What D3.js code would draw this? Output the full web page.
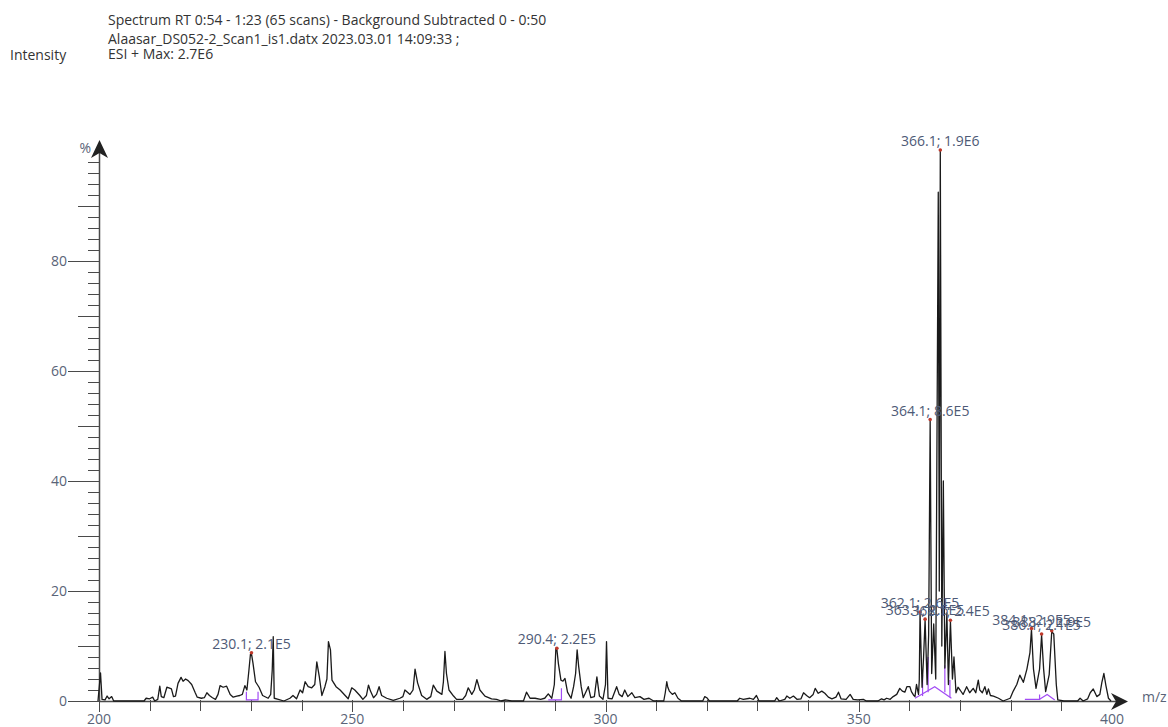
<!DOCTYPE html>
<html>
<head>
<meta charset="utf-8">
<script src="https://cdn.jsdelivr.net/npm/d3@7"></script>
<style>
  body { margin: 0; background: #fff; }
  svg { display: block; }
  text { font-family: "Open Sans", "Noto Sans", sans-serif; }
</style>
</head>
<body>
<svg id="chart" width="1168" height="727"></svg>
<script>
// ---- header text ----
const headerLines = [
  "Spectrum RT 0:54 - 1:23 (65 scans) - Background Subtracted 0 - 0:50",
  "Alaasar_DS052-2_Scan1_is1.datx 2023.03.01 14:09:33 ;",
  "ESI + Max: 2.7E6"
];
const headerBaselines = [25, 44, 59];
const yAxisTitle = "Intensity";

// ---- axes ----
const xDomain = [200, 400];
const yDomain = [0, 100];
const xTickLabels = [200, 250, 300, 350, 400];
const yTickLabels = [0, 20, 40, 60, 80];

// ---- profile spectrum: [m/z, relative intensity %] ----
const profile = [
  [199.8,0],[200.3,5.1],[200.6,0.3],[201.2,0.2],[201.6,0.9],[202.0,0.4],[202.5,0.8],[202.9,0],
  [208.9,0],[209.3,0.5],[210.0,0.4],[210.6,0.7],[211.0,0],[211.6,0.3],
  [212.0,2.7],[212.3,0.8],[212.8,0.6],[213.4,2.5],[213.8,2.4],[214.3,2.2],[214.7,0.8],[215.1,0.9],
  [215.6,3.2],[216.2,4.3],[216.6,3.6],[217.1,4.0],[217.6,3.7],[218.3,3.0],[219.0,1.5],[219.4,0.7],
  [220.2,0.5],[220.8,0.6],[221.3,1.5],[221.8,1.0],[222.4,0.6],[223.0,0.3],[223.5,1.2],
  [223.9,2.8],[224.5,2.5],[225.2,2.7],[225.9,1.2],[226.5,0.7],[227.2,0.9],[227.8,1.0],[228.3,1.2],
  [228.8,2.8],[229.2,2.0],[229.6,5.6],[229.9,8.5],[230.1,8.6],[230.4,6.9],[230.9,3.5],[231.6,2.5],[232.3,1.0],
  [233.4,0.5],[233.9,1.2],[234.2,5.6],[234.4,11.7],[234.6,0.5],[235.4,0.3],[236.5,0],
  [237.7,0.5],[238.3,1.0],[239.0,0.4],[239.7,2.0],[240.2,1.5],[240.7,3.5],[241.3,2.6],[242.0,2.4],
  [242.6,3.0],[243.0,7.1],[243.5,4.4],[244.0,1.0],[244.6,2.6],[245.0,4.0],[245.3,10.8],[245.7,9.3],
  [246.0,3.8],[246.8,2.6],[247.6,2.0],[248.6,1.0],[249.2,0.4],[249.9,2.4],[250.5,2.0],[251.5,1.0],
  [252.1,0.3],[252.8,1.0],[253.2,2.9],[253.6,1.8],[254.2,0.6],[254.8,1.2],[255.3,2.6],[255.8,1.0],
  [256.8,0.5],[258.1,0.1],[259.4,0.5],[260.0,0.8],[260.4,2.0],[261.4,1.2],[262.0,2.0],[262.4,5.8],
  [262.9,3.3],[263.7,1.0],[264.7,0.3],[265.5,0.8],[266.0,2.9],[266.7,1.8],[267.7,1.2],[268.0,3.5],
  [268.3,9.0],[268.6,5.0],[269.1,2.0],[270.0,0.9],[270.6,0.3],[271.8,0.3],[272.4,1.0],[272.9,2.4],
  [273.6,1.2],[274.1,2.0],[274.6,3.9],[275.2,2.0],[276.2,0.9],[277.5,0.4],[278.5,0.3],[279.4,0],
  [280.2,0.2],[281.5,0],[283.8,0],[284.4,1.6],[285.1,0.5],[286.1,0.5],[287.2,0.3],[288.0,0.5],
  [288.7,1.3],[289.4,0.5],[289.9,3.0],[290.2,9.6],[290.4,9.4],[290.7,6.8],[291.2,3.8],[291.6,3.6],[292.0,4.1],
  [292.5,1.6],[293.2,0.5],[293.7,2.6],[294.1,5.0],[294.4,9.3],[294.7,6.3],[295.2,2.6],[295.6,0.6],
  [296.6,2.6],[297.1,0.6],[297.8,0.8],[298.3,4.4],[298.8,0.9],[299.5,0.3],[300.0,3.0],[300.2,10.8],
  [300.5,0.5],[301.3,0.4],[302.2,2.6],[302.7,1.2],[303.3,0.8],[303.8,2.0],[304.4,0.8],[305.2,1.5],
  [305.8,0.6],[306.8,0.8],[307.6,0.3],[308.6,0.5],[309.5,0],[311.5,0],[311.8,1.5],[312.1,3.5],
  [312.3,2.5],[312.6,1.8],[313.2,1.2],[313.7,1.5],[314.3,0.5],[315.0,0],
  [319.2,0],[319.6,0.8],[320.0,0.6],[320.5,0],
  [326.0,0],[326.5,0.5],[327.2,0.3],[328.5,0.5],[329.2,0.3],[329.8,1.0],[330.3,0],
  [333.4,0],[333.8,0.6],[334.3,0],[335.4,0.3],[335.8,0.9],[336.4,0.5],[337.1,0.9],[337.8,0.3],
  [338.6,0.4],[339.1,1.5],[339.7,1.0],[340.3,0.6],[341.0,1.2],[341.4,2.3],[342.0,1.4],[342.7,1.8],
  [343.3,1.4],[344.0,0.7],[344.7,0.4],[345.5,0.7],[346.0,1.6],[346.5,0.4],[347.5,0.3],[348.3,1.2],
  [348.9,0.3],[349.8,0.2],[350.9,0.3],[351.5,0],[353.8,0],[354.5,0.4],[355.0,0.2],[355.5,0.5],
  [356.2,0.3],[356.8,0.8],[357.5,1.2],[358.1,2.3],[358.6,1.8],[359.1,1.6],[359.5,2.6],[360.1,2.6],
  [360.4,1.7],[360.8,1.1],[361.1,0.8],[361.4,3.0],[361.8,1.2],[361.95,3.8],[362.1,16.0],[362.5,2.5],
  [362.8,8.0],[363.1,14.7],[363.5,3.0],[363.8,12.0],[364.1,51.0],[364.4,5.0],[364.8,14.0],[365.2,4.0],
  [365.7,92.5],[365.9,20.0],[366.1,100],[366.4,10.0],[366.7,40.0],[367.0,6.0],[367.4,16.0],[367.7,3.0],
  [368.1,14.5],[368.5,4.0],[368.8,8.0],[369.2,1.5],[369.6,2.5],[370.0,2.0],[370.6,1.2],[371.3,2.6],
  [371.9,1.5],[372.6,2.3],[373.1,1.5],[373.6,3.8],[373.9,2.0],[374.4,1.5],[374.9,2.6],[375.3,1.2],
  [375.6,2.2],[376.0,1.0],[376.6,0.9],[377.6,0.5],[378.5,0],[379.9,0.5],[380.5,1.8],[381.2,3.0],
  [381.8,4.7],[382.5,3.4],[383.2,5.8],[383.8,8.8],[384.1,13.0],[384.5,5.8],[385.0,2.3],[385.7,5.8],
  [386.1,12.0],[386.5,5.8],[386.9,1.7],[387.6,4.8],[388.1,12.6],[388.5,12.2],[389.0,3.0],[389.3,0.2],
  [390.5,0],[393.2,0],[393.7,0.5],[394.3,0],[395.2,0.4],[395.7,1.5],[396.3,2.2],[397.0,0.8],
  [397.6,1.2],[398.0,3.4],[398.4,5.0],[398.8,2.8],[399.3,0.5],[399.8,0]
];

// ---- annotated peaks ----
const peakMz    = [230.1, 290.4, 362.1, 363.1, 364.1, 366.1, 368.1, 384.1, 386.1, 388.1];
const peakPct   = [8.6, 9.4, 16.0, 14.7, 51.0, 100, 14.5, 13.0, 12.0, 12.6];
const peakText  = ["230.1; 2.1E5", "290.4; 2.2E5", "362.1; 2.6E5", "363.1; 2.5E5",
                   "364.1; 8.6E5", "366.1; 1.9E6", "368.1; 2.4E5", "384.1; 2.9E5",
                   "386.1; 2.1E5", "388.1; 2.9E5"];

// ---- integration baselines / drop lines: polylines of [m/z, %] ----
const integrationLines = [
  [[229.1,1.7],[229.1,0.2],[231.4,0.2],[231.4,1.7]],
  [[288.7,0.2],[291.3,0.2],[291.3,2.3]],
  [[361.1,0.5],[365.0,2.6],[368.3,0.5]],
  [[362.6,4.7],[362.6,0.9]],
  [[363.7,8.0],[363.7,1.6]],
  [[367.0,6.5],[367.0,1.6]],
  [[368.0,3.8],[368.0,0.7]],
  [[382.8,0.3],[385.7,0.3],[385.7,1.2]],
  [[385.7,0.3],[387.2,1.2],[388.7,0.2]]
];

// ---- drawing ----
const svg = d3.select("#chart");
const x = d3.scaleLinear().domain(xDomain).range([99, 1112]);
const y = d3.scaleLinear().domain(yDomain).range([701, 151]);

const tickColor = "#5a6478";
const axisColor = "#4a4a4a";

// header
svg.selectAll("text.header").data(headerLines).join("text")
  .attr("class", "header")
  .attr("x", 108).attr("y", (d, i) => headerBaselines[i])
  .attr("font-size", 14).attr("fill", "#333")
  .text(d => d);
svg.append("text").attr("x", 10).attr("y", 60)
  .attr("font-size", 14).attr("fill", "#333").text(yAxisTitle);

// y axis ticks (every 2 %, longer at 10 and labelled at 20)
const yTickVals = d3.range(0, 100, 2);
svg.append("g").selectAll("line").data(yTickVals).join("line")
  .attr("x1", d => d % 20 === 0 ? 68 : d % 10 === 0 ? 78 : 88)
  .attr("x2", 100)
  .attr("y1", d => Math.round(y(d)) + 0.5).attr("y2", d => Math.round(y(d)) + 0.5)
  .attr("stroke", axisColor).attr("stroke-width", 1);
svg.append("g").selectAll("text").data(yTickLabels).join("text")
  .attr("x", 67).attr("y", d => y(d) + 5)
  .attr("text-anchor", "end").attr("font-size", 14).attr("fill", tickColor)
  .text(d => d);
svg.append("line").attr("x1", 99.5).attr("x2", 99.5).attr("y1", 701).attr("y2", 150)
  .attr("stroke", axisColor).attr("stroke-width", 1.5);
svg.append("path").attr("d", "M99.5,140 L108,158 L99.5,153 L91,158 Z").attr("fill", "#222");
svg.append("text").attr("x", 91).attr("y", 153).attr("text-anchor", "end")
  .attr("font-size", 14).attr("fill", tickColor).text("%");

// x axis ticks (every 10 m/z)
const xTickVals = d3.range(200, 400, 10);
svg.append("g").selectAll("line").data(xTickVals).join("line")
  .attr("x1", d => Math.round(x(d)) + 0.5).attr("x2", d => Math.round(x(d)) + 0.5)
  .attr("y1", 700).attr("y2", d => d % 50 === 0 ? 712 : 711)
  .attr("stroke", axisColor).attr("stroke-width", 1);
svg.append("g").selectAll("text").data(xTickLabels).join("text")
  .attr("x", d => x(d)).attr("y", 724)
  .attr("text-anchor", "middle").attr("font-size", 14).attr("fill", tickColor)
  .text(d => d);
svg.append("line").attr("x1", 99).attr("x2", 1118).attr("y1", 701.5).attr("y2", 701.5)
  .attr("stroke", axisColor).attr("stroke-width", 1.5);
svg.append("path").attr("d", "M1128,701.5 L1111,693 L1116,701.5 L1111,710 Z").attr("fill", "#222");
svg.append("text").attr("x", 1142).attr("y", 702).attr("font-size", 14)
  .attr("fill", tickColor).text("m/z");

// integration lines
const pline = d3.line().x(d => x(d[0])).y(d => y(d[1]));
svg.append("g").selectAll("path").data(integrationLines).join("path")
  .attr("d", pline).attr("fill", "none")
  .attr("stroke", "#a24cf5").attr("stroke-width", 1.2);

// spectrum trace
svg.append("path").datum(profile)
  .attr("d", pline)
  .attr("fill", "none").attr("stroke", "#1a1a1a").attr("stroke-width", 1.3)
  .attr("stroke-linejoin", "round");

// peak markers and labels
const peaks = peakMz.map((m, i) => ({ m, p: peakPct[i], t: peakText[i] }));
svg.append("g").selectAll("circle").data(peaks).join("circle")
  .attr("cx", d => x(d.m)).attr("cy", d => y(d.p) - 1).attr("r", 1.8)
  .attr("fill", "#c0392b");
svg.append("g").selectAll("text").data(peaks).join("text")
  .attr("x", d => x(d.m)).attr("y", d => y(d.p) - 5)
  .attr("text-anchor", "middle").attr("font-size", 14).attr("fill", "#4e5a76")
  .text(d => d.t);
</script>
</body>
</html>
